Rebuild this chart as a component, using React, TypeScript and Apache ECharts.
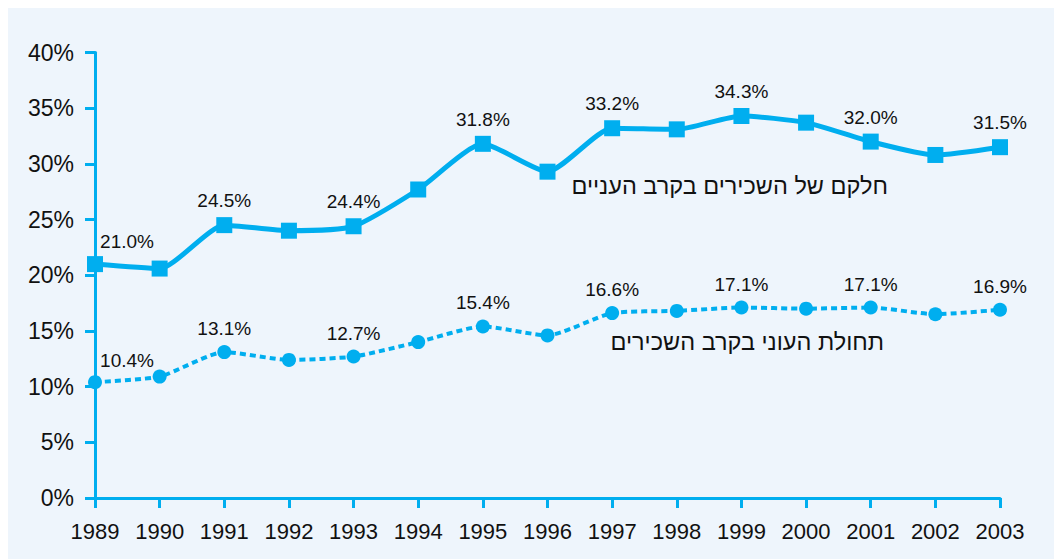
import React, { useEffect, useRef } from "react";
import * as echarts from "echarts";

const years = [
  "1989", "1990", "1991", "1992", "1993", "1994", "1995", "1996",
  "1997", "1998", "1999", "2000", "2001", "2002", "2003",
];
const workersShareAmongPoor = [
  21.0, 20.6, 24.5, 24.0, 24.4, 27.7, 31.8, 29.3, 33.2, 33.1, 34.3, 33.7, 32.0, 30.8, 31.5,
];
const povertyAmongWorkers = [
  10.4, 10.9, 13.1, 12.4, 12.7, 14.0, 15.4, 14.6, 16.6, 16.8, 17.1, 17.0, 17.1, 16.5, 16.9,
];
const labelledYears = ["1989", "1991", "1993", "1995", "1997", "1999", "2001", "2003"];
const seriesNames = ["חלקם של השכירים בקרב העניים", "תחולת העוני בקרב השכירים"];
const yMin = 0;
const yMax = 40;
const yStep = 5;

const BLUE = "#00AEEF";
const BG = "#EEF5FC";
const FONT = "'Liberation Sans', Arial, Helvetica, sans-serif";

function buildData(values: number[]) {
  return values.map((v, i) => ({
    value: v,
    label: {
      show: labelledYears.includes(years[i]),
      offset: i === 0 ? [32, 2] : [0, 0],
    },
  }));
}

export default function App() {
  const ref = useRef<HTMLDivElement>(null);

  useEffect(() => {
    if (!ref.current) return;
    const chart = echarts.init(ref.current, undefined, { renderer: "svg" });
    const labelStyle = {
      position: "top" as const,
      distance: 7,
      fontSize: 19,
      color: "#111",
      fontFamily: FONT,
      formatter: (p: any) => Number(p.value).toFixed(1) + "%",
    };
    chart.setOption({
      animation: false,
      backgroundColor: BG,
      textStyle: { fontFamily: FONT },
      grid: { left: 87, right: 54, top: 44.5, bottom: 61, containLabel: false },
      xAxis: {
        type: "category",
        data: years,
        boundaryGap: false,
        axisLine: { show: true, lineStyle: { color: BLUE, width: 3 } },
        axisTick: { show: true, length: 10, lineStyle: { color: BLUE, width: 3 } },
        axisLabel: { color: "#111", fontSize: 22, margin: 22, fontFamily: FONT },
        splitLine: { show: false },
      },
      yAxis: {
        type: "value",
        min: yMin,
        max: yMax,
        interval: yStep,
        axisLine: { show: true, lineStyle: { color: BLUE, width: 3 } },
        axisTick: { show: true, length: 10, lineStyle: { color: BLUE, width: 3 } },
        axisLabel: {
          color: "#111",
          fontSize: 23,
          margin: 21,
          fontFamily: FONT,
          formatter: "{value}%",
        },
        splitLine: { show: false },
      },
      series: [
        {
          name: seriesNames[0],
          type: "line",
          data: buildData(workersShareAmongPoor),
          smooth: 0.2,
          symbol: "rect",
          symbolSize: 16,
          itemStyle: { color: BLUE },
          lineStyle: { color: BLUE, width: 5 },
          label: labelStyle,
        },
        {
          name: seriesNames[1],
          type: "line",
          data: buildData(povertyAmongWorkers),
          smooth: 0.2,
          symbol: "circle",
          symbolSize: 14,
          itemStyle: { color: BLUE },
          lineStyle: { color: BLUE, width: 4, type: [6, 4] },
          label: labelStyle,
        },
      ],
      graphic: [
        {
          type: "text",
          right: 1046 - 880,
          top: 166,
          style: {
            text: seriesNames[0],
            fontSize: 23.5,
            fontFamily: FONT,
            fill: "#111",
          },
        },
        {
          type: "text",
          right: 1046 - 876,
          top: 322,
          style: {
            text: seriesNames[1],
            fontSize: 23.5,
            fontFamily: FONT,
            fill: "#111",
          },
        },
      ],
    });
    return () => chart.dispose();
  }, []);

  return (
    <div
      ref={ref}
      style={{
        position: "absolute",
        left: 8,
        top: 8,
        width: 1046,
        height: 551,
        background: BG,
      }}
    />
  );
}
